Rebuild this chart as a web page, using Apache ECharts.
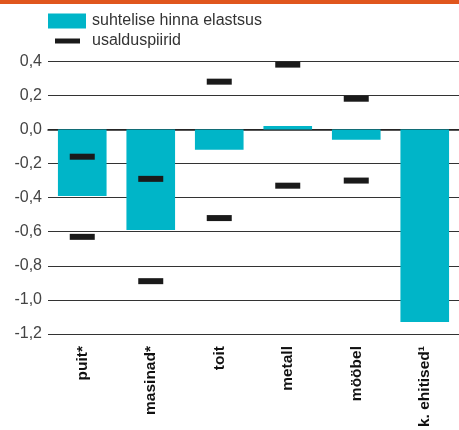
<!DOCTYPE html>
<html><head><meta charset="utf-8">
<script src="https://cdn.jsdelivr.net/npm/echarts@6/dist/echarts.min.js"></script>
<style>html,body{margin:0;padding:0;background:#fff}#c{width:459px;height:430px}</style>
</head><body><div id="c"></div>
<script>
const categories = ['puit*', 'masinad*', 'toit', 'metall', 'mööbel', 'k. ehitised¹'];
const elasticity = [-0.39, -0.59, -0.12, 0.02, -0.06, -1.13];
const ciUpper = [-0.16, -0.29, 0.28, 0.38, 0.18, null];
const ciLower = [-0.63, -0.89, -0.52, -0.33, -0.30, null];
const yTicks = { min: -1.2, max: 0.4, interval: 0.2 };
const seriesNames = ['suhtelise hinna elastsus', 'usalduspiirid'];

const ciData = [];
categories.forEach((c, i) => {
  if (ciUpper[i] != null) ciData.push([c, ciUpper[i]]);
  if (ciLower[i] != null) ciData.push([c, ciLower[i]]);
});

const font = 'Liberation Sans, Arial, Helvetica, sans-serif';
const chart = echarts.init(document.getElementById('c'), null, { renderer: 'canvas' });
chart.setOption({
  animation: false,
  backgroundColor: '#fff',
  textStyle: { fontFamily: font },
  graphic: [{ type: 'rect', left: 0, top: 0, shape: { width: 459, height: 4 }, style: { fill: '#E0561D' } }],
  legend: [
    { data: [seriesNames[0]], left: 48, top: 13, itemWidth: 38, itemHeight: 15, itemGap: 0, padding: 0,
      icon: 'rect', textStyle: { fontSize: 16, color: '#333', fontFamily: font, padding: [0, 0, 0, 1] } },
    { data: [seriesNames[1]], left: 55, top: 33, itemWidth: 25, itemHeight: 5, itemGap: 0, padding: 0,
      icon: 'rect', textStyle: { fontSize: 16, color: '#333', fontFamily: font, padding: [0, 0, 0, 7] } }
  ],
  grid: { left: 48, top: 61.2, width: 416, height: 275.5, containLabel: false },
  xAxis: {
    type: 'category', data: categories, position: 'bottom',
    axisLine: { lineStyle: { color: '#222', width: 1.5 } },
    axisTick: { inside: true, length: 8, lineStyle: { color: '#222', width: 1.5 } },
    axisLabel: { rotate: 90, fontSize: 15.5, fontWeight: 'bold', color: '#111', margin: 12, fontFamily: font }
  },
  yAxis: {
    type: 'value', min: yTicks.min, max: yTicks.max, interval: yTicks.interval,
    axisLine: { show: false }, axisTick: { show: false },
    splitLine: { lineStyle: { color: '#333', width: 1 } },
    axisLabel: { fontSize: 16, color: '#444', margin: 6, fontFamily: font,
      formatter: v => v.toFixed(1).replace('.', ',') }
  },
  series: [
    { name: seriesNames[0], type: 'bar', data: elasticity, barWidth: '71%',
      itemStyle: { color: '#00B5C8' } },
    { name: seriesNames[1], type: 'scatter', data: ciData, symbol: 'rect', symbolSize: [25, 6],
      itemStyle: { color: '#1a1a1a', opacity: 1 }, z: 5 }
  ]
});
</script></body></html>
